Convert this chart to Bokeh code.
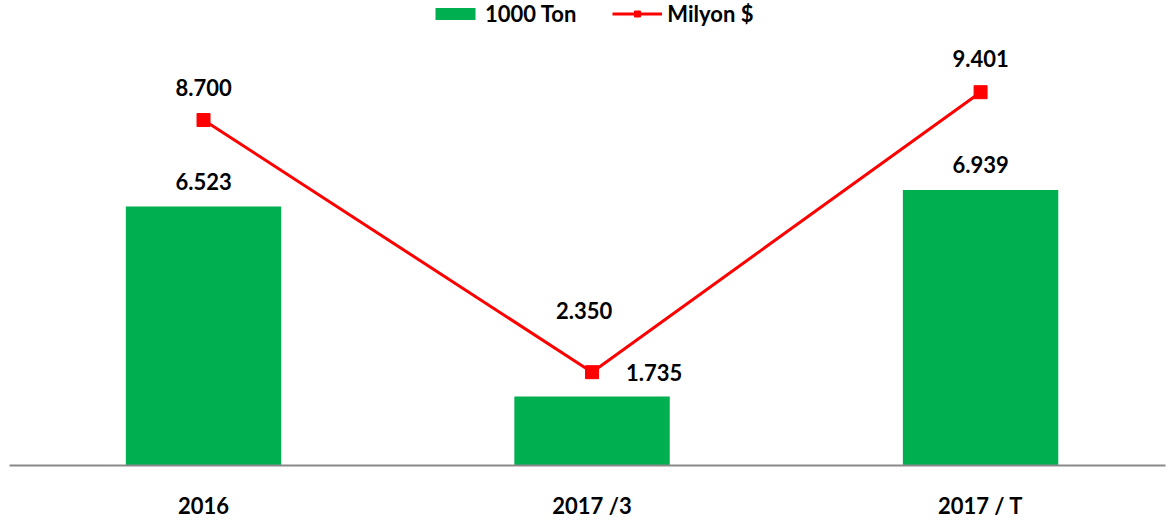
from bokeh.plotting import figure
from bokeh.models import ColumnDataSource, Range1d, Legend, LegendItem, FixedTicker
from bokeh.embed import file_html
from bokeh.resources import INLINE
from bokeh.core.properties import value

# ---- data ----
categories = ["2016", "2017 /3", "2017 / T"]
ton = [6.523, 1.735, 6.939]        # 1000 Ton (bars)
usd = [8.700, 2.350, 9.401]        # Milyon $ (line)

GREEN = "#00B050"
RED = "#FF0000"
FONT = "Lato"

xs = list(range(len(categories)))

def fmt(v):
    return f"{v:.3f}"

# label placement (pixel offsets), middle labels moved to avoid overlap
ton_dx = [0, 62, 0]
ton_dy = [-25, -24, -25]
usd_dx = [0, -8, 0]
usd_dy = [-33, -62, -34]

bar_src = ColumnDataSource(dict(x=xs, top=ton, lab=[fmt(v) for v in ton], dx=ton_dx, dy=ton_dy))
line_src = ColumnDataSource(dict(x=xs, y=usd, lab=[fmt(v) for v in usd], dx=usd_dx, dy=usd_dy))

p = figure(width=1168, height=524, output_backend="svg", toolbar_location=None,
           x_range=Range1d(-0.4994, 2.476), y_range=Range1d(0, 11.71),
           min_border_left=9, min_border_right=3, min_border_top=0, min_border_bottom=59)

bars = p.vbar(x="x", top="top", width=0.4, source=bar_src, fill_color=GREEN, line_color=None)
line = p.line(x="x", y="y", source=line_src, line_color=RED, line_width=3)
marks = p.scatter(x="x", y="y", source=line_src, marker="square", size=13,
                  fill_color=RED, line_color=RED)

for src, ycol in ((bar_src, "top"), (line_src, "y")):
    p.text(x="x", y=ycol, text="lab", source=src, x_offset="dx", y_offset="dy",
           text_align="center", text_baseline="middle",
           text_font=value(FONT), text_font_style="bold", text_font_size="22px",
           text_color="#000000")

p.yaxis.visible = False
p.xgrid.visible = False
p.ygrid.visible = False
p.outline_line_color = None

ax = p.xaxis[0]
ax.ticker = FixedTicker(ticks=xs)
ax.major_label_overrides = {i: c for i, c in enumerate(categories)}
ax.major_tick_line_color = None
ax.minor_tick_line_color = None
ax.major_tick_out = 0
ax.major_tick_in = 0
ax.minor_tick_out = 0
ax.minor_tick_in = 0
ax.axis_line_color = "#898989"
ax.axis_line_width = 2
ax.major_label_text_font = FONT
ax.major_label_text_font_style = "bold"
ax.major_label_text_font_size = "22px"
ax.major_label_text_color = "#000000"
ax.major_label_standoff = 26

legend = Legend(items=[LegendItem(label="1000 Ton", renderers=[bars]),
                       LegendItem(label="Milyon $", renderers=[line, marks])],
                orientation="horizontal", location=(421, 438),
                border_line_alpha=0, background_fill_alpha=0,
                label_text_font=FONT, label_text_font_style="bold",
                label_text_font_size="22px", label_text_color="#000000",
                glyph_width=50, glyph_height=15, spacing=36, label_standoff=5,
                padding=0, margin=0)
p.add_layout(legend)

open("out.html", "w").write(file_html(p, INLINE))
